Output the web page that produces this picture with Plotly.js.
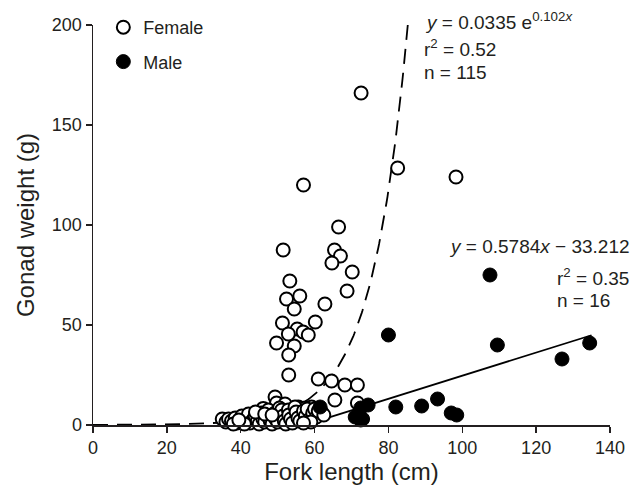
<!DOCTYPE html>
<html>
<head>
<meta charset="utf-8">
<script src="https://cdn.plot.ly/plotly-3.0.1.min.js"></script>
<style>html,body{margin:0;padding:0;background:#fff;}#chart{width:635px;height:491px;}</style>
</head>
<body>
<div id="chart"></div>
<script>
// Female fork length (cm) and gonad weight (g)
const femaleX = [72.6,82.5,98.3,57,66.5,51.5,65.4,67,64.7,70.2,53.3,68.8,56,52.4,62.8,54.5,51.3,60.2,55.3,52.9,56.9,58.3,49.7,54.5,53,53,61,64.6,68.2,71.6,65.5,71.6,49.3,49.7,52,46.1,59.2,61.9,55.6,57.4,54.7,56.5,58.3,
  35,36,36.7,37.5,38.5,39,40.3,40.5,41.5,42.1,42.5,43.5,43.9,44.5,45,45.6,46,46.5,47.5,47.5,48,48.5,49.3,49.5,50,50.5,51.1,51.5,51.8,52.2,52.9,53,53.5,54,54.7,55,55.5,56,57,57.5,58,58.5,59.5,60,60.5,61,62.5,59,57,41,38,44,46.5,48.5,39.5];
const femaleY = [166,128.5,124,120,99,87.5,87.5,84.5,81,76.5,72,67,64.5,63,60.5,58,51,51.5,48,45.5,46.5,45,41,39.5,35,25,23,22,20,20,12.5,11,14,11,10.5,8.3,9,6.5,9,8.5,5,5,6,
  3,1.5,3,2,3.5,1,4.5,2,3,5.5,1,3,4.5,2,0.5,6,3,1.5,7.5,4,2,0.5,6,3,1.5,8.5,7.5,4.5,2,0.5,7.5,5,3,1,9,6.5,3.5,2,7,4.5,8,2.5,6,8,4,7,5,1.5,1,0.5,0.5,6.5,5.5,5,2.5];
// Male fork length (cm) and gonad weight (g)
const maleX = [61.5,71,73,72.5,74.5,72.5,80,82,89,93.3,97,98.5,107.5,109.5,127,134.5];
const maleY = [9,4,3,8.5,10,2.5,45,9,9.5,13,6,5,75,40,33,41];
// Fitted regressions as printed on the chart
const femaleFit = {a: 0.0335, b: 0.102, xMin: 0, xMax: 85.3};
const maleFit = {slope: 0.5784, intercept: -33.212, xMin: 61.8, xMax: 135};
const xTicks = [0,20,40,60,80,100,120,140];
const yTicks = [0,50,100,150,200];

const fx = [], fy = [];
for (let x = femaleFit.xMin; x <= femaleFit.xMax + 1e-9; x += 0.25) { fx.push(x); fy.push(femaleFit.a * Math.exp(femaleFit.b * x)); }
const mx = [maleFit.xMin, maleFit.xMax];
const my = mx.map(x => maleFit.slope * x + maleFit.intercept);

const font = "Liberation Sans, Arial, Helvetica, sans-serif";
const traces = [
  {x: fx, y: fy, mode: 'lines', line: {color: '#000', width: 1.8, dash: '15px,9px'}, showlegend: false, hoverinfo: 'skip'},
  {x: mx, y: my, mode: 'lines', line: {color: '#000', width: 1.8}, showlegend: false, hoverinfo: 'skip'},
  {x: femaleX, y: femaleY, mode: 'markers', name: 'Female', legendgroup: 'f', cliponaxis: false,
   marker: {symbol: 'circle', size: 13, color: '#fff', line: {color: '#000', width: 2}}},
  {x: maleX, y: maleY, mode: 'markers', name: 'Male', legendgroup: 'm', cliponaxis: false,
   marker: {symbol: 'circle', size: 14, color: '#000', line: {color: '#000', width: 1}}}
];
const ann = (xref, yref, x, y, text, xa) => ({x, y, xref, yref, text, showarrow: false, xanchor: xa, yanchor: 'middle', font: {family: font, size: 19, color: '#231f20'}});
const layout = {
  width: 635, height: 491,
  margin: {l: 93, r: 25, t: 25, b: 66, autoexpand: false},
  paper_bgcolor: '#fff', plot_bgcolor: '#fff',
  font: {family: font, color: '#231f20'},
  xaxis: {range: [0, 140], tickvals: xTicks, ticks: 'outside', ticklen: 6, tickwidth: 1.5, tickcolor: '#231f20',
    showline: true, linecolor: '#231f20', linewidth: 1.5, showgrid: false, zeroline: false,
    tickfont: {size: 18, family: font}, title: {text: 'Fork length (cm)', font: {size: 24, family: font}, standoff: 4}},
  yaxis: {range: [0, 200], tickvals: yTicks, ticks: 'outside', ticklen: 6, tickwidth: 1.5, tickcolor: '#231f20',
    showline: true, linecolor: '#231f20', linewidth: 1.5, showgrid: false, zeroline: false,
    tickfont: {size: 18, family: font}, title: {text: 'Gonad weight (g)', font: {size: 24, family: font}, standoff: 10}},
  legend: {x: 0.02, y: 1.04, xanchor: 'left', yanchor: 'top', font: {size: 18, family: font}, tracegroupgap: 8, traceorder: 'grouped', bgcolor: 'rgba(0,0,0,0)'},
  annotations: [
    ann('paper', 'paper', 0.638, 1.01, '<i>y</i> = 0.0335 e<sup>0.102<i>x</i></sup>', 'left'),
    ann('x', 'y', 89, 188.5, 'r<sup>2</sup> = 0.52', 'left'),
    ann('x', 'y', 89, 176.5, 'n = 115', 'left'),
    ann('paper', 'paper', 1.043, 0.4475, '<i>y</i> = 0.5784<i>x</i> \u2212 33.212', 'right'),
    ann('x', 'y', 125, 74, 'r<sup>2</sup> = 0.35', 'left'),
    ann('x', 'y', 125, 62.5, 'n = 16', 'left')
  ],
  showlegend: true
};
Plotly.newPlot('chart', traces, layout, {displayModeBar: false, staticPlot: true});
</script>
</body>
</html>
